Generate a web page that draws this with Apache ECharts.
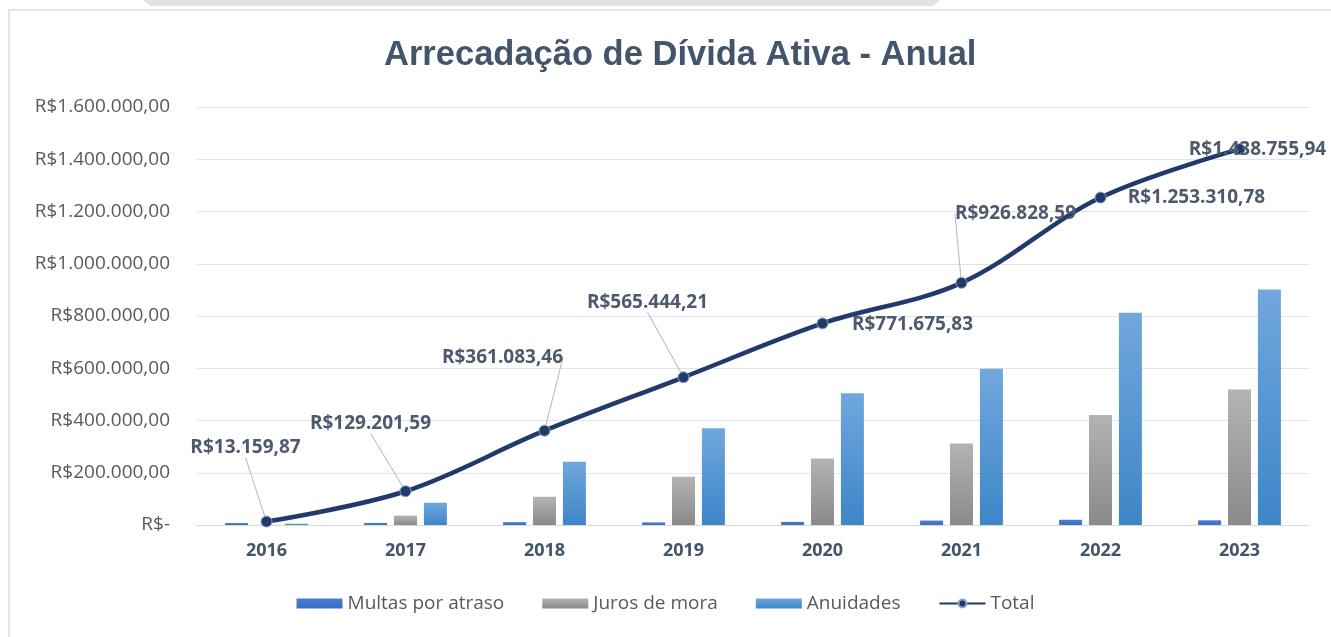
<!DOCTYPE html>
<html>
<head>
<meta charset="utf-8">
<script src="https://cdn.jsdelivr.net/npm/echarts@6/dist/echarts.min.js"></script>
<style>
html,body{margin:0;padding:0;background:#fff;}
#chart{width:1331px;height:637px;}
</style>
</head>
<body>
<div id="chart"></div>
<script>
// dados
var anos = ['2016','2017','2018','2019','2020','2021','2022','2023'];
var multas = [7500, 8000, 11000, 10000, 12000, 17000, 20000, 18000];
var juros = [700, 36000, 108000, 185000, 255000, 312000, 421000, 519000];
var anuidades = [4960, 85200, 242000, 370400, 504700, 597800, 812300, 901800];
var total = [13159.87, 129201.59, 361083.46, 565444.21, 771675.83, 926828.59, 1253310.78, 1438755.94];

// deslocamento dos rótulos do total (dx, dy) e se tem linha de chamada
var rotuloDx = [-21, -35, -42, -36, 90, 54, 96, 18];
var rotuloDy = [-53, -47, -53, -54, 22, -49, 21, 21];
var comLinha = [true, true, true, true, false, true, false, false];

function brl(v) {
    if (v === 0) return 'R$-';
    var p = v.toFixed(2).split('.');
    var inteiro = p[0].replace(/\B(?=(\d{3})+(?!\d))/g, '.');
    return 'R$' + inteiro + ',' + p[1];
}

var fonte = '"Open Sans", "Liberation Sans", sans-serif';

function grad(c1, c2) {
    return new echarts.graphic.LinearGradient(0, 0, 0, 1, [
        {offset: 0, color: c1},
        {offset: 1, color: c2}
    ]);
}

var totalData = total.map(function (v, i) {
    return {value: v, labelLine: {show: comLinha[i]}};
});

option = {
    backgroundColor: '#ffffff',
    textStyle: {fontFamily: fonte},
    graphic: [{
        type: 'polygon',
        shape: {points: [[143, 0], [940, 0], [933, 6], [150, 6]]},
        style: {fill: '#e2e2e2'},
        silent: true
    }, {
        type: 'rect',
        shape: {x: 9, y: 10, width: 1340, height: 640},
        style: {fill: 'none', stroke: '#e1e6ee', lineWidth: 2},
        silent: true
    }],
    title: {
        text: 'Arrecadação de Dívida Ativa - Anual',
        left: 379,
        top: 33,
        textStyle: {
            fontFamily: '"Liberation Sans", sans-serif',
            fontSize: 34.5,
            fontWeight: 'bold',
            color: '#44546a'
        }
    },
    legend: {
        bottom: 19,
        left: 'center',
        itemWidth: 46,
        itemHeight: 10,
        itemGap: 38,
        textStyle: {
            fontFamily: fonte,
            fontSize: 19,
            color: '#595959'
        },
        data: [
            {name: 'Multas por atraso', icon: 'rect'},
            {name: 'Juros de mora', icon: 'rect'},
            {name: 'Anuidades', icon: 'rect'},
            {name: 'Total'}
        ]
    },
    grid: {
        left: 197,
        right: 22,
        top: 107,
        bottom: 112,
        containLabel: false
    },
    xAxis: {
        type: 'category',
        data: anos,
        axisTick: {show: false},
        axisLine: {lineStyle: {color: '#d9d9d9', width: 1}},
        axisLabel: {
            margin: 17,
            fontFamily: fonte,
            fontSize: 18,
            fontWeight: 'bold',
            color: '#44546a'
        }
    },
    yAxis: {
        type: 'value',
        min: 0,
        max: 1600000,
        interval: 200000,
        axisLine: {show: false},
        axisTick: {show: false},
        splitLine: {lineStyle: {color: '#e1e4e8', width: 1}},
        axisLabel: {
            margin: 27,
            fontFamily: fonte,
            fontSize: 19,
            color: '#595959',
            formatter: brl
        }
    },
    series: [{
        name: 'Multas por atraso',
        type: 'bar',
        barWidth: 23,
        barGap: '30%',
        itemStyle: {color: grad('#4a7fd4', '#3a6cc8')},
        data: multas
    }, {
        name: 'Juros de mora',
        type: 'bar',
        barWidth: 23,
        itemStyle: {color: grad('#b3b3b3', '#8a8a8a')},
        data: juros
    }, {
        name: 'Anuidades',
        type: 'bar',
        barWidth: 23,
        itemStyle: {color: grad('#71a7dd', '#3d86c8')},
        data: anuidades
    }, {
        name: 'Total',
        type: 'line',
        smooth: 0.35,
        symbol: 'circle',
        symbolSize: 11,
        z: 5,
        lineStyle: {color: '#22396b', width: 4.5},
        itemStyle: {color: '#22396b', borderColor: '#8ea3c4', borderWidth: 1},
        label: {
            show: true,
            position: 'top',
            fontFamily: fonte,
            fontSize: 19,
            fontWeight: 'bold',
            color: '#4d5a6e',
            formatter: function (p) { return brl(p.value); }
        },
        labelLine: {
            show: true,
            lineStyle: {color: '#a9b7cb', width: 1}
        },
        labelLayout: function (p) {
            return {dx: rotuloDx[p.dataIndex], dy: rotuloDy[p.dataIndex]};
        },
        data: totalData
    }]
};

var chart = echarts.init(document.getElementById('chart'));
chart.setOption(option);
</script>
</body>
</html>
